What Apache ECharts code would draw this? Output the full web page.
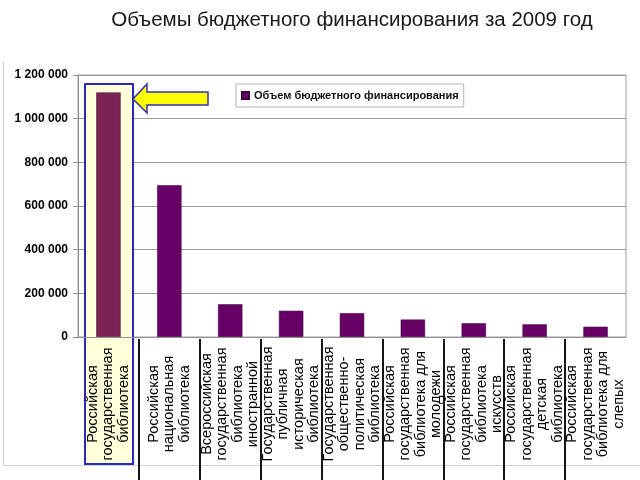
<!DOCTYPE html>
<html>
<head>
<meta charset="utf-8">
<script src="https://cdn.jsdelivr.net/npm/echarts@6/dist/echarts.min.js"></script>
<style>html,body{margin:0;padding:0;background:#fff;}#c{width:640px;height:480px;}</style>
</head>
<body>
<div id="c"></div>
<script>
var titleText = 'Объемы бюджетного финансирования за 2009 год';
var seriesName = 'Объем бюджетного финансирования';
var categories = [
  'Российская\nгосударственная\nбиблиотека',
  'Российская\nнациональная\nбиблиотека',
  'Всероссийская\nгосударственная\nбиблиотека\nиностранной',
  'Государственная\nпубличная\nисторическая\nбиблиотека',
  'Государственная\nобщественно-\nполитическая\nбиблиотека',
  'Российская\nгосударственная\nбиблиотека для\nмолодежи',
  'Российская\nгосударственная\nбиблиотека\nискусств',
  'Российская\nгосударственная\nдетская\nбиблиотека',
  'Российская\nгосударственная\nбиблиотека для\nслепых'
];
var values = [1120000, 695000, 150000, 120000, 109000, 80000, 63000, 58000, 47000];
var yTicks = [0, 200000, 400000, 600000, 800000, 1000000, 1200000];

var FONT = 'Liberation Sans, Arial, sans-serif';
var chart = echarts.init(document.getElementById('c'), null, {renderer: 'canvas'});
chart.setOption({
  animation: false,
  backgroundColor: '#fff',
  title: {
    text: titleText, left: 347, top: 5, textAlign: 'center',
    textStyle: {fontSize: 20.5, fontWeight: 'normal', color: '#1a1a1a', fontFamily: FONT}
  },
  legend: {
    left: 236, top: 84, padding: [6, 5, 6, 5],
    itemWidth: 7, itemHeight: 7, itemGap: 5, icon: 'rect',
    borderColor: '#b5b5b5', borderWidth: 1,
    textStyle: {fontSize: 11, fontWeight: 'bold', color: '#111', fontFamily: FONT},
    data: [seriesName]
  },
  grid: [
    {left: 78, right: 14, top: 75, bottom: 143,
      show: true, borderColor: '#a0a0a0', borderWidth: 1, backgroundColor: 'transparent'},
    {left: 78, right: 14, top: 339, bottom: 0}
  ],
  xAxis: [{
    type: 'category', data: categories, z: 3, gridIndex: 0,
    axisLine: {show: true, lineStyle: {color: '#909090', width: 1}},
    axisTick: {show: false},
    axisLabel: {
      interval: 0, rotate: 90, align: 'center', verticalAlign: 'middle', margin: 67,
      color: '#000', fontFamily: FONT, fontSize: 14.5, lineHeight: 15.5
    },
    splitLine: {show: false}
  }, {
    type: 'value', gridIndex: 1, min: 0, max: categories.length, interval: 1, z: 3,
    axisLine: {show: false}, axisTick: {show: false}, axisLabel: {show: false},
    splitLine: {show: true, showMinLine: false, showMaxLine: false, lineStyle: {color: '#151515', width: 2}}
  }],
  yAxis: [{
    type: 'value', gridIndex: 0, min: yTicks[0], max: yTicks[yTicks.length - 1], interval: yTicks[1] - yTicks[0],
    axisLine: {show: true, lineStyle: {color: '#909090'}},
    axisTick: {show: true, length: 5, lineStyle: {color: '#909090'}},
    axisLabel: {
      margin: 10, fontSize: 12, fontWeight: 'bold', color: '#000', fontFamily: FONT,
      formatter: function (v) { return String(v).replace(/\B(?=(\d{3})+(?!\d))/g, ' '); }
    },
    splitLine: {show: true, lineStyle: {color: '#9a9a9a', width: 1}}
  }, {
    type: 'value', gridIndex: 1, show: false
  }],
  series: [{
    name: seriesName, type: 'bar', barWidth: '40%', z: 2,
    data: values,
    itemStyle: {
      color: function (p) { return p.dataIndex === 0 ? '#7B2352' : '#660066'; },
      borderColor: '#3c003c', borderWidth: 0.5
    }
  }],
  color: ['#660066'],
  graphic: {
    elements: [
      {type: 'line', z: 0, shape: {x1: 3.5, y1: 62, x2: 3.5, y2: 465}, style: {stroke: '#cfcfcf', lineWidth: 1}},
      {type: 'line', z: 0, shape: {x1: 3, y1: 465.5, x2: 640, y2: 465.5}, style: {stroke: '#cfcfcf', lineWidth: 1}},
      {type: 'rect', z: 1, shape: {x: 85, y: 84, width: 48, height: 380},
        style: {fill: '#FFFFD9', stroke: '#2a2ab8', lineWidth: 2}},
      {type: 'polygon', z: 4, shape: {points: [[133, 99], [147, 84], [147, 92], [208, 92], [208, 105], [147, 105], [147, 113]]},
        style: {fill: '#FFFF00', stroke: '#3030b0', lineWidth: 1.5}}
    ]
  }
});
</script>
</body>
</html>
